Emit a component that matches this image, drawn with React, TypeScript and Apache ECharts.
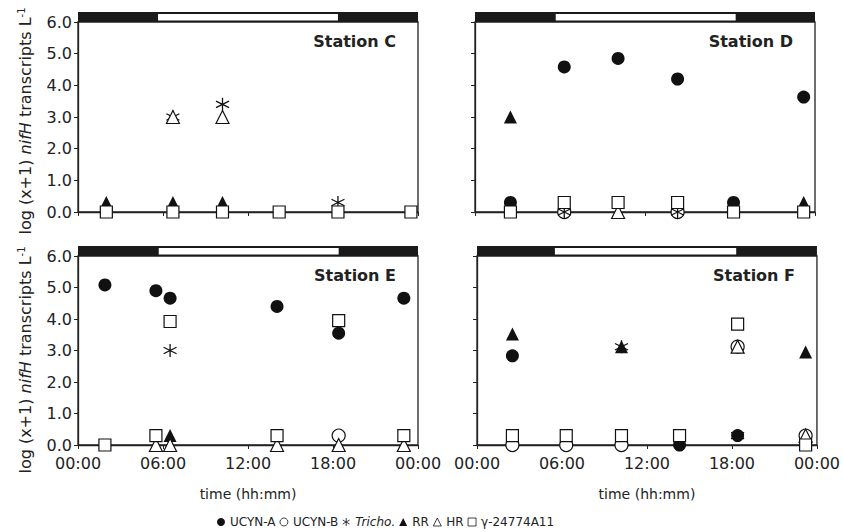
import React, { useEffect, useRef } from "react";
import * as echarts from "echarts";

// ---- data (hours of day, log(x+1) nifH transcripts per litre) ----
const STATIONS = ["Station C", "Station D", "Station E", "Station F"];
const SAMPLE_TIMES = [
  [2.0, 6.7, 10.2, 14.2, 18.35, 23.5],
  [2.5, 6.3, 10.1, 14.3, 18.25, 23.2],
  [1.9, 5.5, 6.5, 14.05, 18.4, 23.0],
  [2.5, 6.3, 10.2, 14.3, 18.4, 23.2],
];
const UCYN_A = [
  [null, null, null, null, null, null],
  [0.3, 4.58, 4.85, 4.2, 0.3, 3.63],
  [5.08, 4.9, 4.66, 4.4, 3.55, 4.66],
  [2.83, null, null, 0, 0.3, null],
];
const UCYN_B = [
  [null, null, null, null, null, null],
  [null, 0, null, 0, null, null],
  [null, null, null, null, 0.3, null],
  [0, 0, 0, null, 3.12, 0.3],
];
const TRICHO = [
  [null, 3.0, 3.4, null, 0.3, null],
  [null, 0, null, 0, null, null],
  [null, null, 3.0, null, null, null],
  [null, null, 3.12, null, 0.3, null],
];
const RR = [
  [0.3, 0.3, 0.3, null, null, null],
  [3.0, null, null, null, null, 0.3],
  [null, null, 0.3, null, null, null],
  [3.52, null, 3.12, null, null, 2.95],
];
const HR = [
  [null, 3.0, 3.0, null, null, null],
  [null, null, 0, null, null, null],
  [null, 0, 0, 0, 0, 0],
  [null, null, null, null, 3.12, 0.3],
];
const GAMMA = [
  [0, 0, 0, 0, 0, 0],
  [0, 0.3, 0.3, 0.3, 0, 0],
  [0, 0.3, 3.92, 0.3, 3.95, 0.3],
  [0.3, 0.3, 0.3, 0.3, 3.84, 0],
];
const SUNRISE = [5.65, 5.7, 5.7, 5.5];
const SUNSET = [18.35, 18.4, 18.4, 18.3];
const X_MIN = 0;
const X_MAX = 24;
const X_INTERVAL = 6;
const Y_MIN = 0;
const Y_MAX = 6;
const Y_INTERVAL = 1;

const FONT = "DejaVu Sans";
const INK = "#222";
const TRICHO_PATH = "path://M5 0L5 10M0.67 2.5L9.33 7.5M0.67 7.5L9.33 2.5";

const GRIDS = [
  { left: 78, top: 22, width: 340, height: 190 },
  { left: 475, top: 22, width: 340, height: 190 },
  { left: 78, top: 256, width: 340, height: 189 },
  { left: 477, top: 256, width: 340, height: 189 },
];

const SERIES_DEFS = [
  { name: "UCYN-A", values: UCYN_A, symbol: "circle", size: 13, itemStyle: { color: "#111", opacity: 1 } },
  { name: "UCYN-B", values: UCYN_B, symbol: "circle", size: 13, itemStyle: { color: "#fff", borderColor: "#111", borderWidth: 1.2, opacity: 1 } },
  { name: "Tricho.", values: TRICHO, symbol: TRICHO_PATH, size: 13, itemStyle: { color: "rgba(0,0,0,0)", borderColor: "#111", borderWidth: 1.3, opacity: 1 } },
  { name: "RR", values: RR, symbol: "triangle", size: 13, itemStyle: { color: "#111", opacity: 1 } },
  { name: "HR", values: HR, symbol: "triangle", size: 13, itemStyle: { color: "#fff", borderColor: "#111", borderWidth: 1.2, opacity: 1 } },
  { name: "γ-24774A11", values: GAMMA, symbol: "rect", size: 12, itemStyle: { color: "#fff", borderColor: "#111", borderWidth: 1.2, opacity: 1 } },
];

function buildOption() {
  const series: any[] = [];
  GRIDS.forEach((_, g) => {
    // day/night bar on top of the plot
    series.push({
      type: "custom",
      xAxisIndex: g,
      yAxisIndex: g,
      silent: true,
      clip: false,
      data: [[SUNRISE[g], SUNSET[g]]],
      renderItem: (params: any, api: any) => {
        const cs = params.coordSys;
        const x1 = api.coord([api.value(0), Y_MAX])[0];
        const x2 = api.coord([api.value(1), Y_MAX])[0];
        return {
          type: "group",
          children: [
            { type: "rect", shape: { x: cs.x, y: cs.y - 10, width: cs.width, height: 10 }, style: { fill: "#1a1a1a" } },
            { type: "rect", shape: { x: x1, y: cs.y - 8, width: x2 - x1, height: 6.5 }, style: { fill: "#fff" } },
          ],
        };
      },
    });
    SERIES_DEFS.forEach((d, k) => {
      const data: any[] = [];
      SAMPLE_TIMES[g].forEach((t, i) => {
        const v = d.values[g][i];
        if (v !== null && v !== undefined) data.push([t, v]);
      });
      series.push({
        type: "scatter",
        name: d.name,
        xAxisIndex: g,
        yAxisIndex: g,
        data,
        symbol: d.symbol,
        symbolSize: d.size,
        itemStyle: d.itemStyle,
        clip: false,
        z: 3 + k,
        emphasis: { disabled: true },
      });
    });
  });

  const xAxis = GRIDS.map((_, g) => ({
    type: "value",
    gridIndex: g,
    min: X_MIN,
    max: X_MAX,
    interval: X_INTERVAL,
    axisLine: { show: true, lineStyle: { color: INK, width: 1.3 } },
    axisTick: { show: true, length: 4, lineStyle: { color: INK } },
    splitLine: { show: false },
    axisLabel: {
      show: g >= 2,
      fontFamily: FONT,
      fontSize: 16,
      color: INK,
      margin: 10,
      formatter: (v: number) => String(v % 24).padStart(2, "0") + ":00",
    },
    name: g >= 2 ? "time (hh:mm)" : "",
    nameLocation: "middle",
    nameGap: 42,
    nameTextStyle: { fontFamily: FONT, fontSize: 14, color: INK },
  }));

  const yAxis = GRIDS.map((_, g) => ({
    type: "value",
    gridIndex: g,
    min: Y_MIN,
    max: Y_MAX,
    interval: Y_INTERVAL,
    axisLine: { show: true, lineStyle: { color: INK, width: 1.3 } },
    axisTick: { show: true, length: 4, lineStyle: { color: INK } },
    splitLine: { show: false },
    axisLabel: {
      show: g % 2 === 0,
      fontFamily: FONT,
      fontSize: 16,
      color: INK,
      margin: 6,
      formatter: (v: number) => v.toFixed(1),
    },
  }));

  const graphic: any[] = [];
  GRIDS.forEach((gr, g) => {
    graphic.push({
      type: "text",
      x: gr.left + gr.width - 22,
      y: gr.top + 19,
      style: {
        text: STATIONS[g],
        fontFamily: FONT,
        fontWeight: "bold",
        fontSize: 16,
        fill: INK,
        align: "right",
        verticalAlign: "middle",
      },
    });
  });
  [121, 360].forEach((cy) => {
    graphic.push({
      type: "text",
      x: 25,
      y: cy,
      rotation: Math.PI / 2,
      style: {
        text: "{a|log (x+1) }{i|nifH}{a| transcripts L}{s|-1}",
        align: "center",
        verticalAlign: "middle",
        fill: INK,
        rich: {
          a: { fontFamily: FONT, fontSize: 16, fill: INK, lineHeight: 18 },
          i: { fontFamily: FONT, fontSize: 16, fontStyle: "italic", fill: INK, lineHeight: 18 },
          s: { fontFamily: FONT, fontSize: 10, fill: INK, verticalAlign: "top", lineHeight: 18 },
        },
      },
    });
  });

  return {
    animation: false,
    backgroundColor: "#fff",
    textStyle: { fontFamily: FONT },
    grid: GRIDS.map((gr) => ({ ...gr, show: true, borderColor: INK, borderWidth: 1.3, backgroundColor: "transparent" })),
    xAxis,
    yAxis,
    legend: {
      left: 212,
      top: 511,
      itemWidth: 8,
      itemHeight: 8,
      itemGap: 4,
      selectedMode: false,
      itemStyle: { borderWidth: 0.8 },
      data: SERIES_DEFS.map((d) => ({ name: d.name, icon: d.symbol })),
      textStyle: {
        fontFamily: FONT,
        fontSize: 12,
        color: INK,
        rich: { it: { fontFamily: FONT, fontSize: 12, fontStyle: "italic", color: INK } },
      },
      formatter: (name: string) => (name === "Tricho." ? "{it|Tricho.}" : name),
    },
    graphic,
    series,
  };
}

export default function App() {
  const ref = useRef<HTMLDivElement>(null);
  useEffect(() => {
    if (!ref.current) return;
    const chart = echarts.init(ref.current, null, { renderer: "svg" });
    chart.setOption(buildOption() as any);
    return () => chart.dispose();
  }, []);
  return (
    <div
      ref={ref}
      style={{ position: "fixed", left: 0, top: 0, width: 843, height: 532, background: "#fff" }}
    />
  );
}
